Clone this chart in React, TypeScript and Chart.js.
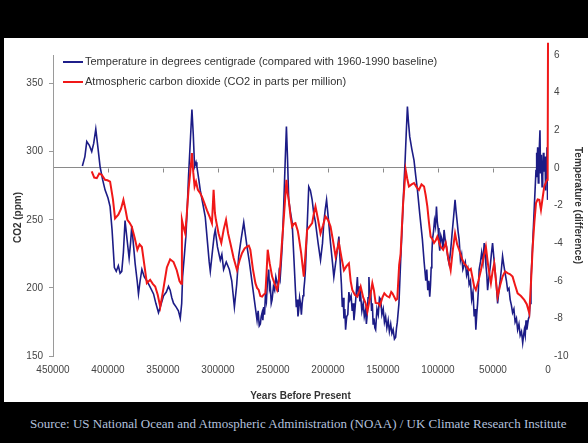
import React, { useEffect, useRef } from "react";
import { Chart, registerables } from "chart.js";

Chart.register(...registerables);

const FONT = "'Liberation Sans', Arial, sans-serif";

// Years before present for the temperature series
const tempYears = [
  423300, 421000, 419300, 417000, 414800, 413000, 411100, 409000, 407200, 405000,
  402700, 400000, 398100, 396300, 394200, 392500, 390600, 389000, 387500, 386000,
  384500, 382500, 380800, 379500, 378400, 377000, 375300, 373500, 372300, 370800,
  369200, 367000, 364700, 362000, 358600, 356500, 354100, 352000, 349500, 347000,
  345000, 343500, 342000, 340400, 338000, 336000, 334300, 333000, 332200, 330500,
  329200, 328000, 326800, 325000, 323700, 322500, 321300, 320000, 319200, 317500,
  316100, 313500, 311600, 309500, 308000, 307000, 305000, 303500, 302500, 300500,
  297900, 296500, 294900, 292500, 289700, 287500, 285100, 283000, 281200, 279000,
  276600, 275000, 273600, 271500, 269000, 267000,
  264500, 263500, 262500, 261500, 260700, 259900, 259200, 258500, 257700, 256900,
  256000, 255000, 253900, 253200, 252500, 251600, 250800, 249600, 248500, 247400,
  246300, 245400, 244500, 243500, 242600,
  241500, 240300, 239000, 237800, 236800, 235700, 234000, 232600, 231000,
  229600, 228800, 228000, 227300, 226600, 225800, 225000, 224200, 223500, 222700,
  222000, 221200, 220500,
  219000, 217500, 216000, 214400,
  213000, 211400, 209000, 206800, 205000, 203800, 202500, 201300, 199500, 197700,
  196000, 194700, 192500,
  190100, 189300, 188500, 187800, 187000, 186200, 185500, 184700, 184000, 183000,
  182000, 181000, 180100, 179000, 178000, 177200, 176400, 175600, 174800, 174000,
  173300, 172500, 171800, 171000, 170300, 169200, 168000, 167000, 165800, 165100,
  164500, 163600, 162800, 162000, 161200, 160400, 159700, 159000, 158200, 157400,
  156700, 155500, 154300, 153200, 152100, 151000, 149800, 148700, 147600, 146500,
  145300, 144200, 143000, 141900, 140800, 139600, 138500, 137700, 137000,
  135500, 134000, 132400, 131200, 130000, 128900, 127800,
  126800, 125700, 123800, 121800, 120300, 118700, 116500, 114200, 112600,
  111100, 110200, 109300, 108400, 107500, 106800, 106200, 105600, 105000, 104100,
  103200, 102300, 101400, 100600, 99900, 99100, 98400, 97400, 96400, 95400,
  94500, 93300, 92200, 91000, 89900, 88500, 87200, 85800, 84500, 83600,
  82700, 81700, 80800, 79600, 78500, 77400, 76300, 75200, 74000, 72800,
  71700, 70500, 69400, 68200, 67100, 66300, 65600, 64800, 64000, 63300,
  62600, 61400, 60300, 59100, 58000, 57200, 56400, 55600, 54900, 53700,
  52600, 51500, 50400, 49200, 48000, 46900, 45800, 44600, 43500, 42400,
  41300, 40100, 39000, 37800, 36700, 35500, 34400, 33300, 32200, 31000,
  29900, 28700, 27600, 26400, 25300, 24100, 23000, 22200, 21500, 20700,
  20000, 19200, 18500, 17700, 17000, 16300, 15500,
  13900, 12400,
  10900, 10500, 10100, 9400, 8800, 8300, 7300, 6800, 6000, 5400,
  4800, 4200, 3700, 2700, 2200, 1800, 1300, 900, 400, 0,
];

// Temperature difference (deg C) vs 1960-1990 baseline
const tempValues = [
  0.1, 0.6, 1.4, 1.2, 0.87, 1.3, 2.06, 1.0, 0.07, -0.6,
  -1.17, -1.6, -2.06, -3.3, -5.3, -5.5, -5.2, -5.6, -5.5, -4.5,
  -2.8, -3.9, -4.8, -4.0, -3.1, -4.0, -5.1, -6.0, -6.7, -6.0,
  -5.4, -5.8, -6.0, -6.3, -6.7, -7.2, -7.7, -7.3, -6.8, -6.6,
  -6.3, -6.5, -6.9, -7.2, -7.4, -7.6, -8.0, -7.2, -5.8, -4.6,
  -3.65, -2.2, -0.46, 1.6, 3.1, 1.8, 0.07, 0.3, 0.07, -0.6,
  -1.2, -2.0, -2.6, -4.0, -5.0, -5.5, -4.4, -3.6, -3.3, -4.2,
  -4.9, -4.6, -5.4, -5.0, -5.4, -6.0, -7.4, -6.2, -4.7, -3.8,
  -2.9, -3.6, -4.2, -5.0, -6.1, -7.0,
  -8.1, -7.6, -8.4, -8.3, -7.9, -7.7, -8.1, -7.4, -7.8, -6.8,
  -7.1, -6.0, -5.4, -6.4, -6.2, -7.2, -7.0, -6.3, -6.5, -5.8,
  -6.1, -6.6, -5.6, -5.9, -5.1,
  -4.0, -2.1, 0.2, 2.2, 0.5, -1.7, -2.4, -2.9, -4.8,
  -6.5, -7.4, -7.0, -7.9, -7.55, -6.9, -7.2, -7.8, -7.2, -6.8,
  -6.5, -6.0, -5.4,
  -3.2, -1.0, -1.2, -1.7,
  -2.4, -2.9, -4.0, -4.9, -4.0, -2.9, -2.2, -1.7, -2.8, -4.0,
  -5.0, -5.8, -4.8,
  -3.65, -4.6, -5.5, -6.2, -7.4, -6.9, -8.0, -7.5, -8.6, -7.9,
  -7.8, -6.6, -7.0, -6.8, -7.6, -7.2, -8.1, -7.6, -7.0, -6.4,
  -5.8, -6.8, -6.3, -7.1, -6.8, -7.6, -7.2, -7.9, -7.55, -8.3,
  -7.9, -6.9, -5.8, -7.0, -6.5, -7.6, -7.2, -8.3, -8.0, -8.5,
  -8.6, -7.5, -7.8, -6.9, -7.0, -7.8, -7.5, -8.2, -7.9, -8.5,
  -8.1, -8.7, -8.3, -8.8, -8.6, -9.1, -9.0, -8.5, -8.2,
  -7.2, -5.0, -2.9, -1.2, 0.25, 1.8, 3.26,
  2.4, 1.66, 1.0, 0.4, -0.4, -1.17, -2.5, -3.8, -5.0,
  -6.0, -5.4, -6.5, -6.0, -6.85, -6.2, -5.3, -4.6, -3.8, -3.4,
  -2.8, -3.1, -2.06, -2.9, -3.2, -4.0, -4.4, -3.6, -3.8, -4.3,
  -3.3, -3.9, -4.2, -4.8, -5.1, -4.4, -3.5, -2.6, -1.7, -2.3,
  -2.8, -3.4, -3.8, -4.9, -4.6, -5.4, -5.2, -5.0, -5.7, -5.4,
  -6.2, -6.0, -7.0, -6.6, -7.9, -7.5, -8.6, -7.8, -7.2, -6.5,
  -5.4, -5.0, -4.5, -5.0, -4.0, -4.6, -5.2, -5.7, -6.5, -5.8,
  -5.3, -4.6, -4.0, -4.8, -5.5, -6.3, -7.2, -6.5, -6.0, -5.4,
  -4.7, -5.2, -5.6, -6.0, -6.5, -6.4, -7.0, -7.3, -7.7, -7.5,
  -8.2, -8.0, -8.6, -8.3, -8.9, -8.7, -9.3, -8.9, -8.6, -8.9,
  -8.1, -8.6, -8.3, -8.0, -7.9, -7.2, -6.0,
  -4.0, -2.0,
  -0.1, 0.8, -0.5, 1.1, -0.8, 0.4, 2.0, -0.3, 0.7, -1.0,
  -0.46, 0.8, -0.2, 0.6, -1.2, 0.3, -0.8, 1.1, -1.7, -1.0,
];

// Years before present for the CO2 series
const co2Years = [
  414800, 412500, 410200, 408000, 405700, 402700, 400500, 398100, 395500, 393600,
  390600, 388200, 386000, 384000, 382400, 380500, 378400, 375800, 373300, 371300,
  369200, 366800, 364700, 361700, 359300, 357100, 354800, 352500, 349500, 346500,
  343500, 340400, 337500, 335000, 333500, 332800, 331500, 329800, 328300, 326800,
  325200, 323700, 322500, 321300, 320000, 318300, 316500, 314600, 312300, 310000,
  307500, 305500, 304000, 302800, 301900, 299500, 297000, 294800, 292700, 290800,
  288800, 285800, 282700, 280500, 278200, 275800, 273600, 272000, 270600, 268300,
  266000, 264500, 263000, 261500, 259900, 258500, 256900, 255800, 254800, 253000,
  250800, 248500, 246300, 244700, 243200, 241700, 240300, 239000, 237800, 236800,
  235700, 234000, 232600, 231100, 229600, 227500, 226600, 224400, 222000, 220500,
  219000, 216800, 214400, 213000, 211400, 209000, 206800, 204500, 202300, 200000,
  197700, 195300, 193100, 191600, 190100, 187700, 185500, 183200, 181000, 179400,
  177900, 175600, 173300, 171800, 170300, 168000, 165800, 164200, 162000, 159700,
  158200, 156700, 154200, 152800, 150500, 148800, 146500, 144200, 142500, 141400,
  139500, 138300, 137000, 135300, 134000, 131900, 130500, 129400, 127900, 126400,
  124000, 121800, 119500, 117300, 115000, 112700, 111200, 109700, 108200, 106700,
  105200, 103600, 102000, 100600, 99100, 97600, 95300, 93000, 90700, 88500,
  86500, 84500, 82600, 80800, 78500, 76300, 74000, 71700, 70200, 67100,
  65600, 63300, 61000, 58700, 56500, 54200, 51900, 50400, 48900, 47300,
  45800, 43500, 41300, 39000, 36700, 34400, 32200, 29900, 27600, 24600,
  21600, 19300, 17000, 15400, 13900, 12400, 10900, 9400, 7900, 6400,
  4900, 3400, 2200, 900, 300, 0,
];

// Atmospheric CO2 (ppm)
const co2Values = [
  285.5, 281, 280.6, 284, 283, 279.4, 279, 278, 265, 251,
  253.7, 258, 264.7, 257, 250, 248, 245, 237, 228, 232,
  230, 216, 203.5, 206, 203, 201, 195, 186, 200, 215,
  221, 219, 213, 205, 203, 250, 245, 240, 255, 272,
  285, 299, 285, 274.5, 278, 272, 270, 267, 262, 257,
  252, 247.5, 272, 255, 250, 240, 233, 243, 250, 240,
  233, 222, 213, 220, 225.5, 229, 230.4, 231, 228, 214,
  203.5, 200, 198.5, 194, 193.6, 195, 196, 212, 228, 218,
  208.3, 203, 198.5, 205, 218, 235, 250, 265, 279.4, 270,
  264.7, 252, 245, 247, 247.5, 242, 237.7, 225.5, 208.3, 225,
  242.6, 245, 247.5, 254, 259.8, 250, 240, 246, 252.4, 250,
  245, 234, 223, 228, 233, 222, 213, 216, 218, 205,
  198.5, 195, 193.6, 197, 201, 193, 188.7, 182.6, 192, 203.5,
  198, 189, 188.7, 187, 193, 196, 194, 193, 197, 196,
  193, 191, 192, 217, 225, 259.8, 275, 286.8, 280, 274.5,
  276, 277, 274, 272, 276, 274.5, 268, 259.8, 248, 237.7,
  236, 233, 235, 237.7, 234, 230.4, 228, 233, 222, 213,
  228, 240, 232, 228, 222, 218, 216, 213, 214, 201,
  198.5, 205, 213, 222, 230.4, 215, 203.5, 212, 218, 205,
  193.6, 202, 208.3, 212, 210.8, 210, 208.3, 202, 196, 194,
  191.2, 188, 181.4, 205, 230.4, 248, 262.3, 265, 264.7, 257.3,
  266, 274.5, 277, 279.4, 286.8, 380,
];

const xTickValues = [450000, 400000, 350000, 300000, 250000, 200000, 150000, 100000, 50000, 0];
const co2TickValues = [150, 200, 250, 300, 350];
const tempTickValues = [-10, -8, -6, -4, -2, 0, 2, 4, 6];

const tempLabel = "Temperature in degrees centigrade (compared with 1960-1990 baseline)";
const co2Label = "Atmospheric carbon dioxide (CO2 in parts per million)";
const co2AxisTitle = "CO2 (ppm)";

export default function App() {
  const canvasRef = useRef<HTMLCanvasElement | null>(null);

  useEffect(() => {
    const canvas = canvasRef.current;
    if (!canvas) return;

    const tempData = tempYears.map((x, i) => ({ x, y: tempValues[i] }));
    const co2Data = co2Years.map((x, i) => ({ x, y: co2Values[i] }));

    const zeroLineTicks = {
      id: "zeroLineTicks",
      beforeDatasetsDraw(chart: any) {
        const ctx = chart.ctx;
        const xs = chart.scales.x;
        const ys = chart.scales.yT;
        const y0 = Math.round(ys.getPixelForValue(0)) + 0.5;
        ctx.save();
        ctx.strokeStyle = "#8a8a8a";
        ctx.lineWidth = 1;
        ctx.beginPath();
        xTickValues.forEach((v) => {
          if (v === 0 || v === 450000) return;
          const px = Math.round(xs.getPixelForValue(v)) + 0.5;
          ctx.moveTo(px, y0);
          ctx.lineTo(px, y0 + 4);
        });
        ctx.stroke();
        ctx.restore();
      },
    };

    const innerLegend = {
      id: "innerLegend",
      afterDraw(chart: any) {
        const ctx = chart.ctx;
        const area = chart.chartArea;
        const items = [
          { color: "#1f1f8a", text: chart.data.datasets[0].label, width: 2 },
          { color: "#f01818", text: chart.data.datasets[1].label, width: 2 },
        ];
        ctx.save();
        ctx.font = `11px ${FONT}`;
        ctx.textBaseline = "middle";
        items.forEach((it, i) => {
          const y = area.top + 7 + i * 20;
          const x0 = area.left + 10;
          ctx.strokeStyle = it.color;
          ctx.lineWidth = it.width;
          ctx.beginPath();
          ctx.moveTo(x0, y);
          ctx.lineTo(x0 + 20, y);
          ctx.stroke();
          ctx.fillStyle = "#333333";
          ctx.fillText(it.text, x0 + 22, y);
        });
        // left axis title, placed like the original (a little below the plot's middle)
        ctx.translate(14, area.top + (area.bottom - area.top) * 0.54);
        ctx.rotate(-Math.PI / 2);
        ctx.font = `bold 10px ${FONT}`;
        ctx.textAlign = "center";
        ctx.fillStyle = "#333333";
        ctx.fillText(co2AxisTitle, 0, 0);
        ctx.restore();
      },
    };

    const chart = new Chart(canvas, {
      type: "line",
      data: {
        datasets: [
          {
            label: tempLabel,
            data: tempData,
            yAxisID: "yT",
            borderColor: "#1c1c86",
            borderWidth: 1.6,
            pointRadius: 0,
            tension: 0,
            order: 2,
          },
          {
            label: co2Label,
            data: co2Data,
            yAxisID: "yC",
            borderColor: "#f01818",
            borderWidth: 2,
            pointRadius: 0,
            tension: 0,
            order: 1,
            clip: { left: 0, top: 16, right: 4, bottom: 0 },
          },
        ],
      },
      options: {
        animation: false,
        responsive: false,
        maintainAspectRatio: false,
        layout: { padding: { top: 17, left: 0, right: 0, bottom: 0 } },
        plugins: {
          legend: { display: false },
          tooltip: { enabled: false },
          title: { display: false },
        },
        scales: {
          x: {
            type: "linear",
            reverse: true,
            min: 0,
            max: 450000,
            afterBuildTicks: (s: any) => {
              s.ticks = xTickValues.map((v) => ({ value: v }));
            },
            afterFit: (s: any) => {
              s.height = 46;
            },
            ticks: {
              callback: (v: any) => String(v),
              font: { size: 10, family: FONT },
              color: "#444444",
              padding: 8,
              maxRotation: 0,
              autoSkip: false,
            },
            grid: { display: false, drawTicks: false },
            border: { display: false },
            title: {
              display: true,
              text: "Years Before Present",
              font: { size: 10, weight: "bold", family: FONT },
              color: "#333333",
              padding: { top: 8, bottom: 0 },
            },
          },
          yC: {
            type: "linear",
            position: "left",
            min: 150,
            max: 371,
            afterBuildTicks: (s: any) => {
              s.ticks = co2TickValues.map((v) => ({ value: v }));
            },
            afterFit: (s: any) => {
              s.width = 49;
            },
            ticks: {
              font: { size: 10, family: FONT },
              color: "#444444",
              padding: 6,
            },
            grid: {
              display: true,
              drawOnChartArea: false,
              drawTicks: true,
              tickLength: 4,
              color: "#9a9a9a",
            },
            border: { display: true, color: "#9a9a9a" },
            title: { display: false },
          },
          yT: {
            type: "linear",
            position: "right",
            min: -10,
            max: 6,
            afterBuildTicks: (s: any) => {
              s.ticks = tempTickValues.map((v) => ({ value: v }));
            },
            afterFit: (s: any) => {
              s.width = 40;
            },
            ticks: {
              font: { size: 10, family: FONT },
              color: "#444444",
              padding: 6,
            },
            grid: {
              display: true,
              drawOnChartArea: true,
              drawTicks: false,
              color: (ctx: any) =>
                ctx.tick && ctx.tick.value === 0 ? "#8a8a8a" : "rgba(0,0,0,0)",
            },
            border: { display: false },
            title: {
              display: true,
              text: "Temperature (difference)",
              font: { size: 10, weight: "bold", family: FONT },
              color: "#333333",
              padding: { top: 4, bottom: 0 },
            },
          },
        },
      },
      plugins: [zeroLineTicks, innerLegend],
    } as any);

    return () => chart.destroy();
  }, []);

  return (
    <div
      style={{
        position: "absolute",
        left: 0,
        top: 0,
        width: 588,
        height: 443,
        background: "#000000",
        overflow: "hidden",
      }}
    >
      <div
        style={{
          position: "absolute",
          left: 4,
          top: 38,
          width: 584,
          height: 364,
          background: "#ffffff",
        }}
      >
        <canvas
          ref={canvasRef}
          width={584}
          height={364}
          style={{ width: 584, height: 364, display: "block" }}
        />
      </div>
      <div
        style={{
          position: "absolute",
          left: 30,
          top: 415,
          whiteSpace: "nowrap",
          fontFamily: "'Liberation Serif', 'Times New Roman', serif",
          fontSize: 13,
          lineHeight: "18px",
          color: "#b4c0de",
        }}
      >
        Source: US National Ocean and Atmospheric Administration (NOAA) / UK Climate Research Institute
      </div>
    </div>
  );
}
